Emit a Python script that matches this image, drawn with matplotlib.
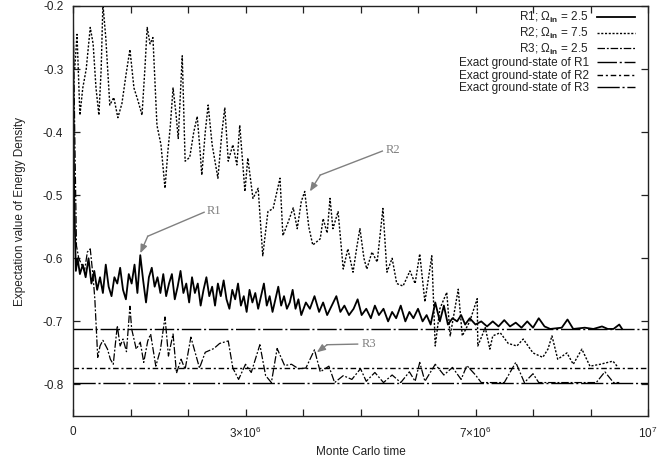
import matplotlib
matplotlib.use("Agg")
import matplotlib.pyplot as plt
import numpy as np

plt.rcParams['font.family'] = ['Liberation Sans', 'DejaVu Sans']
plt.rcParams['mathtext.fontset'] = 'custom'
plt.rcParams['mathtext.rm'] = 'Liberation Sans'
plt.rcParams['mathtext.it'] = 'Liberation Sans'
plt.rcParams['mathtext.bf'] = 'Liberation Sans:bold'

# ---------------- data (x in units of 1e6 Monte Carlo steps) ----------------
r1_x = [0, 0.02, 0.05, 0.08, 0.12, 0.17, 0.22, 0.27, 0.32, 0.37, 0.42, 0.47, 0.52, 0.57, 0.62,
        0.67, 0.72, 0.77, 0.82, 0.87, 0.92, 0.97, 1.02, 1.07, 1.12, 1.17, 1.22, 1.27, 1.32, 1.37,
        1.42, 1.47, 1.52, 1.57, 1.62, 1.67, 1.72, 1.77, 1.82, 1.87, 1.92, 1.97, 2.02, 2.07, 2.12,
        2.17, 2.22, 2.27, 2.32, 2.37, 2.42, 2.47, 2.52, 2.57, 2.62, 2.67, 2.72, 2.77, 2.82, 2.87,
        2.92, 2.97, 3.02, 3.07, 3.12, 3.17, 3.22, 3.27, 3.32, 3.37, 3.42, 3.47, 3.52, 3.57, 3.62,
        3.67, 3.72, 3.77, 3.82, 3.87, 3.92, 3.97, 4.05, 4.12, 4.2, 4.28, 4.35, 4.42, 4.5, 4.58,
        4.65, 4.72, 4.8, 4.88, 4.95, 5.02, 5.1, 5.18, 5.25, 5.32, 5.4, 5.48, 5.55, 5.62, 5.7,
        5.78, 5.85, 5.92, 6.0, 6.08, 6.15, 6.22, 6.3, 6.38, 6.45, 6.52, 6.6, 6.68, 6.75, 6.82,
        6.9, 7.0, 7.1, 7.2, 7.3, 7.4, 7.5, 7.6, 7.7, 7.8, 7.9, 8.0, 8.1, 8.2, 8.3, 8.5, 8.6,
        8.7, 8.9, 9.05, 9.2, 9.3, 9.4, 9.5, 9.55]
r1_y = [-0.2, -0.50, -0.62, -0.60, -0.625, -0.61, -0.63, -0.60, -0.64, -0.62, -0.65, -0.63, -0.655, -0.61, -0.645,
        -0.66, -0.63, -0.64, -0.615, -0.65, -0.665, -0.625, -0.64, -0.61, -0.655, -0.595, -0.635, -0.67, -0.63, -0.615,
        -0.645, -0.63, -0.655, -0.625, -0.66, -0.64, -0.625, -0.665, -0.645, -0.62, -0.655, -0.64, -0.67, -0.63, -0.655,
        -0.64, -0.675, -0.65, -0.63, -0.66, -0.645, -0.675, -0.64, -0.66, -0.635, -0.665, -0.68, -0.65, -0.665, -0.64,
        -0.675, -0.66, -0.685, -0.65, -0.67, -0.655, -0.68, -0.66, -0.64, -0.675, -0.66, -0.685, -0.665, -0.645, -0.675,
        -0.66, -0.68, -0.67, -0.65, -0.68, -0.665, -0.69, -0.67, -0.68, -0.66, -0.685, -0.67, -0.69, -0.675, -0.66,
        -0.685, -0.675, -0.69, -0.68, -0.665, -0.69, -0.68, -0.695, -0.675, -0.69, -0.68, -0.70, -0.685, -0.695, -0.675,
        -0.70, -0.685, -0.695, -0.68, -0.70, -0.69, -0.705, -0.67, -0.70, -0.675, -0.705, -0.695, -0.70, -0.69, -0.705,
        -0.695, -0.705, -0.70, -0.708, -0.70, -0.708, -0.698, -0.708, -0.702, -0.71, -0.70, -0.71, -0.695, -0.708, -0.712, -0.71, -0.697,
        -0.712, -0.71, -0.712, -0.708, -0.712, -0.712, -0.705, -0.712]

r2_x = [0.03, 0.07, 0.12, 0.17, 0.23, 0.30, 0.35, 0.40, 0.45, 0.49, 0.52, 0.57, 0.64, 0.71, 0.78,
        0.85, 0.92, 0.99, 1.06, 1.13, 1.20, 1.25, 1.29, 1.34, 1.39, 1.46, 1.53, 1.60, 1.65, 1.69,
        1.74, 1.79, 1.83, 1.90, 1.95, 2.03, 2.10, 2.16, 2.21, 2.24, 2.30, 2.35, 2.42, 2.52, 2.59,
        2.64, 2.70, 2.78, 2.85, 2.90, 2.99, 3.04, 3.13, 3.22, 3.30, 3.39, 3.48, 3.60, 3.65, 3.74,
        3.83, 3.90, 3.97, 4.03, 4.10, 4.17, 4.30, 4.35, 4.42, 4.47, 4.52, 4.61, 4.70, 4.78, 4.87,
        4.94, 4.99, 5.06, 5.11, 5.20, 5.29, 5.39, 5.46, 5.55, 5.63, 5.74, 5.86, 5.95, 6.03, 6.12,
        6.24, 6.30, 6.38, 6.50, 6.56, 6.70, 6.77, 6.90, 7.03, 7.04, 7.17, 7.25, 7.30, 7.43, 7.57,
        7.72, 7.83, 8.00, 8.17, 8.26, 8.33, 8.43, 8.59, 8.70, 8.85, 8.99, 9.17, 9.39, 9.48]
r2_y = [-0.30, -0.245, -0.373, -0.33, -0.30, -0.234, -0.26, -0.33, -0.373, -0.30, -0.197, -0.25, -0.357, -0.345, -0.377,
        -0.355, -0.31, -0.269, -0.33, -0.35, -0.373, -0.30, -0.234, -0.26, -0.25, -0.389, -0.42, -0.489, -0.43, -0.393,
        -0.33, -0.37, -0.41, -0.279, -0.446, -0.44, -0.40, -0.375, -0.43, -0.468, -0.40, -0.357, -0.42, -0.473, -0.40,
        -0.361, -0.446, -0.42, -0.452, -0.389, -0.494, -0.441, -0.505, -0.489, -0.596, -0.526, -0.521, -0.473, -0.564, -0.543,
        -0.52, -0.553, -0.51, -0.494, -0.55, -0.579, -0.569, -0.537, -0.56, -0.505, -0.553, -0.526, -0.617, -0.585, -0.622,
        -0.58, -0.553, -0.60, -0.617, -0.59, -0.606, -0.521, -0.622, -0.60, -0.64, -0.644, -0.62, -0.64, -0.593, -0.669,
        -0.596, -0.739, -0.68, -0.654, -0.723, -0.649, -0.723, -0.70, -0.664, -0.739, -0.71, -0.744, -0.723, -0.718, -0.735,
        -0.739, -0.728, -0.75, -0.757, -0.744, -0.723, -0.760, -0.75, -0.768, -0.744, -0.771, -0.768, -0.763, -0.773]

r3_x = [0, 0.03, 0.06, 0.10, 0.15, 0.20, 0.25, 0.30, 0.35, 0.38, 0.43, 0.47, 0.52, 0.60, 0.65,
        0.70, 0.77, 0.82, 0.87, 0.93, 0.99, 1.02, 1.10, 1.17, 1.23, 1.30, 1.35, 1.44, 1.52, 1.60,
        1.66, 1.74, 1.80, 1.88, 1.95, 2.05, 2.20, 2.30, 2.45, 2.55, 2.70, 2.78, 2.88, 3.00, 3.10,
        3.25, 3.35, 3.45, 3.55, 3.68, 3.80, 3.92, 4.05, 4.20, 4.30, 4.45, 4.55, 4.70, 4.85, 5.00,
        5.10, 5.25, 5.40, 5.55, 5.70, 5.85, 5.95, 6.03, 6.12, 6.30, 6.45, 6.60, 6.75, 6.85, 7.00,
        7.10, 7.50, 7.70, 7.85, 8.00, 8.10, 9.10, 9.25, 9.40, 9.50]
r3_y = [-0.2, -0.40, -0.58, -0.60, -0.61, -0.62, -0.59, -0.585, -0.63, -0.665, -0.757, -0.739, -0.73, -0.744, -0.76,
        -0.768, -0.707, -0.739, -0.728, -0.748, -0.676, -0.712, -0.744, -0.733, -0.765, -0.731, -0.72, -0.771, -0.745, -0.693,
        -0.755, -0.72, -0.782, -0.76, -0.776, -0.725, -0.774, -0.749, -0.743, -0.735, -0.731, -0.774, -0.792, -0.768, -0.781,
        -0.737, -0.786, -0.797, -0.743, -0.77, -0.768, -0.775, -0.774, -0.745, -0.78, -0.771, -0.797, -0.786, -0.792, -0.775,
        -0.795, -0.781, -0.797, -0.785, -0.797, -0.78, -0.795, -0.765, -0.795, -0.768, -0.785, -0.773, -0.792, -0.77, -0.785,
        -0.797, -0.797, -0.765, -0.797, -0.783, -0.797, -0.797, -0.78, -0.797, -0.797]

exact_values = [-0.712, -0.774, -0.797]

series_labels = [r'R1; $\Omega_{\mathbf{in}}$ = 2.5', r'R2; $\Omega_{\mathbf{in}}$ = 7.5',
                 r'R3; $\Omega_{\mathbf{in}}$ = 2.5']
exact_labels = ['Exact ground-state of R1', 'Exact ground-state of R2', 'Exact ground-state of R3']

xtick_values = [0, 1, 2, 3, 4, 5, 6, 7, 8, 9, 10]
xtick_labels = ['0', '', '', r'$3{\times}10^{6}$', '', '', '', r'$7{\times}10^{6}$', '', '', r'$10^{7}$']
ytick_values = [-0.2, -0.3, -0.4, -0.5, -0.6, -0.7, -0.8]

# ---------------- figure ----------------
fig = plt.figure(figsize=(6.68, 4.59), dpi=100)
ax = fig.add_axes([73/668, 1-416/459, 575/668, 410/459])

scale = 1e6
ax.plot(np.array(r1_x)*scale, r1_y, color='black', lw=1.3, ls='-', label=series_labels[0])
ax.plot(np.array(r2_x)*scale, r2_y, color='black', lw=1.0, ls=(0, (1.5, 1.2)), label=series_labels[1])
ax.plot(np.array(r3_x)*scale, r3_y, color='black', lw=0.9, ls=(0, (6, 1.5, 1.5, 1.5)), label=series_labels[2])

exact_styles = [(0, (14, 2, 1.5, 2)), (0, (4, 2, 1.5, 2)), (0, (16, 2, 1.5, 2))]
for val, lab, st in zip(exact_values, exact_labels, exact_styles):
    ax.axhline(val, color='black', lw=1.0, ls=st, label=lab)

ax.set_xlim(0, 10*scale)
ax.set_ylim(-0.85, -0.2)
ax.set_xticks(np.array(xtick_values)*scale)
ax.set_xticklabels(xtick_labels)
ax.set_yticks(ytick_values)
ax.set_yticklabels(['%.1f' % v for v in ytick_values])
ax.tick_params(direction='in', length=5, width=0.9, top=True, right=True,
               labelsize=8.5, colors='#222222')
ax.tick_params(axis='y', pad=7)
ax.tick_params(axis='x', pad=7)
for sp in ax.spines.values():
    sp.set_linewidth(1.0)
    sp.set_color('#222222')

ax.set_xlabel('Monte Carlo time', fontsize=8.5, labelpad=4, color='#222222')
ax.set_ylabel('Expectation value of Energy Density', fontsize=8.5, labelpad=12, color='#222222')

leg = ax.legend(loc='upper right', bbox_to_anchor=(0.977, 0.99), frameon=False,
                markerfirst=False, fontsize=8.5, handlelength=3.2, handletextpad=0.7,
                labelspacing=0.05, borderaxespad=0, borderpad=0)
for t in leg.get_texts():
    t.set_color('#222222')

# annotations
gray = '#808080'
ann_font = dict(family=['Liberation Serif'], fontsize=9, color=gray)

def pointer(text, text_xy, start, bend, tip):
    ax.text(text_xy[0]*scale, text_xy[1], text, ha='left', va='center', **ann_font)
    ax.plot([start[0]*scale, bend[0]*scale], [start[1], bend[1]], color=gray, lw=1.0)
    ax.annotate('', xy=(tip[0]*scale, tip[1]), xytext=(bend[0]*scale, bend[1]),
                arrowprops=dict(arrowstyle='-|>,head_length=0.5,head_width=0.2',
                                color=gray, lw=1.0, shrinkA=0, shrinkB=0))

pointer('R1', (2.33, -0.525), (2.28, -0.527), (1.30, -0.565), (1.17, -0.592))
pointer('R2', (5.43, -0.428), (5.38, -0.430), (4.30, -0.468), (4.12, -0.494))
pointer('R3', (5.02, -0.736), (4.95, -0.736), (4.42, -0.737), (4.24, -0.749))

fig.savefig('out.png', dpi=100)
